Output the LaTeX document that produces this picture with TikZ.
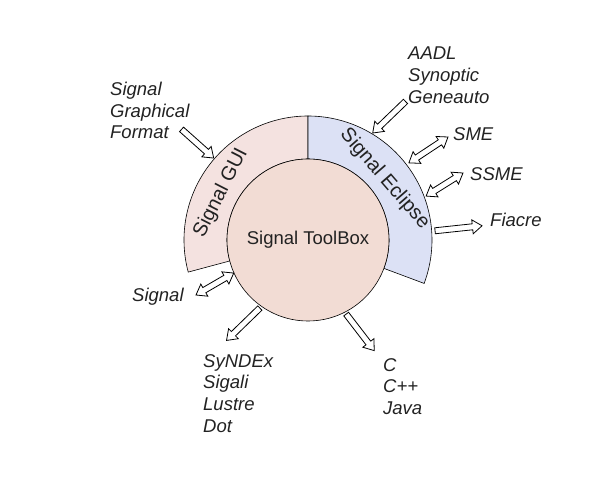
\documentclass[tikz,border=0pt]{standalone}
\usepackage{fontspec}
\setmainfont{Liberation Sans}
\usetikzlibrary{arrows.meta,calc,positioning,shapes.arrows}
\definecolor{guipink}{HTML}{F4E2E0}
\definecolor{eclblue}{HTML}{DCE1F5}
\definecolor{tbpink}{HTML}{F2DCD4}
\definecolor{txt}{HTML}{222222}

\begin{document}
\begin{tikzpicture}[x=1pt,y=1pt,text=txt,
  lbl/.style={align=left,inner sep=0pt,anchor=north west,font=\fontsize{18.5}{21.7}\selectfont\itshape},
  ringtxt/.style={font=\fontsize{20}{22}\selectfont},
  blkarr/.style={draw,fill=white,line width=0.8pt,inner sep=2.6pt,outer sep=0pt,sloped,allow upside down,midway},
  blk/.style={blkarr,single arrow,single arrow head extend=4pt,single arrow tip angle=72},
  blkb/.style={blkarr,double arrow,double arrow head extend=4pt,double arrow tip angle=72}]
\useasboundingbox (-308,-241) rectangle (284,240);
\draw[fill=guipink,line width=0.6pt] (90:81) -- (90:124) arc[start angle=90,end angle=195,radius=124] -- (195:81) arc[start angle=195,end angle=90,radius=81] -- cycle;
\draw[fill=eclblue,line width=0.6pt] (90:81) -- (90:124) arc[start angle=90,end angle=-20.5,radius=124] -- (-20.5:81) arc[start angle=-20.5,end angle=90,radius=81] -- cycle;
\node[circle,draw,fill=tbpink,line width=0.6pt,minimum size=162pt,inner sep=0pt,font=\fontsize{18.5}{21.7}\selectfont] (tb) at (0,0) {Signal ToolBox};
\node[ringtxt,rotate=63] (gui) at (151.5:99) {Signal GUI};
\node[ringtxt,rotate=-49] (ecl) at (38.5:98) {Signal Eclipse};
% texts round the box
\node[lbl] (sgf) at (-198,158) {Signal\\Graphical\\Format};
\node[lbl] (aadl) at (100,193) {AADL\\Synoptic\\Geneauto};
\node[lbl] (sme) at (145,113) {SME};
\node[lbl] (ssme) at (162,73) {SSME};
\node[lbl] (fiacre) at (182,27) {Fiacre};
\node[lbl] (sig) at (-176,-48) {Signal};
\node[lbl] (synd) at (-105,-114) {SyNDEx\\Sigali\\Lustre\\Dot};
\node[lbl] (lang) at (75,-118) {C\\C++\\Java};
% arrow ends
\coordinate (sgf-e) at (-128,112);
\coordinate (gui-in) at (139:127);
\coordinate (aadl-e) at (99,140);
\coordinate (ecl-in) at (58.6:127);
\coordinate (sme-e) at (140,103);
\coordinate (ecl-sme) at (37.4:127);
\coordinate (ssme-e) at (155,67);
\coordinate (ecl-ssme) at (20.4:126);
\coordinate (fiacre-e) at (172,14);
\coordinate (ecl-out) at (125,9);
\coordinate (sig-e) at (-112,-55);
\coordinate (tb-sig) at (tb.204);
\coordinate (synd-e) at (-80,-99);
\coordinate (tb-synd) at (tb.235.5);
\coordinate (lang-e) at (65,-109);
\coordinate (tb-lang) at (tb.297);
\foreach \a/\b/\s in {sgf-e/gui-in/blk,aadl-e/ecl-in/blk,ecl-sme/sme-e/blkb,ecl-ssme/ssme-e/blkb,
  ecl-out/fiacre-e/blk,tb-sig/sig-e/blkb,tb-synd/synd-e/blk,tb-lang/lang-e/blk}
  \path let \p1=($(\b)-(\a)$), \n1={veclen(\x1,\y1)} in (\a) -- (\b) node[\s,minimum height=\n1] {};
\end{tikzpicture}
\end{document}
